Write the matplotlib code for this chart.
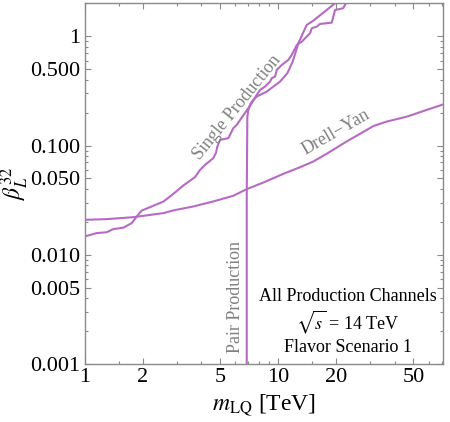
import numpy as np
import matplotlib
matplotlib.use('Agg')
import matplotlib.pyplot as plt
from matplotlib.ticker import FixedLocator, FixedFormatter, NullFormatter

plt.rcParams['font.family'] = ['Liberation Serif', 'DejaVu Serif']
plt.rcParams['mathtext.fontset'] = 'stix'

# curves (m_LQ in TeV, beta_L^32)
drell_yan_m = [1.0, 1.30, 1.79, 2.56, 2.88, 3.65, 4.63, 5.87, 6.89, 8.40, 10.65,
               13.0, 15.2, 17.8, 22.6, 26.5, 31.1, 36.5, 46.3, 58.6, 74.4]
drell_yan_b = [0.0209, 0.0212, 0.0221, 0.0241, 0.0255, 0.0277, 0.0308, 0.0347, 0.0399,
               0.0459, 0.0551, 0.0634, 0.0714, 0.0839, 0.109, 0.128, 0.151, 0.166,
               0.184, 0.212, 0.244]

single_m = [1.0, 1.156, 1.302, 1.409, 1.586, 1.754, 1.861, 1.975, 2.18, 2.555, 2.766,
            2.936, 3.24, 3.724, 3.954, 4.195, 4.63, 4.78, 4.857, 5.015, 5.535, 5.875,
            6.117, 7.31, 7.76, 8.07, 8.57, 9.09, 9.28, 9.65, 9.85, 10.45, 11.3, 11.77,
            12.5, 13.26, 14.07, 14.64, 14.94, 15.85, 16.49, 18.95, 19.7, 21.7, 22.65]
single_b = [0.0147, 0.0158, 0.0161, 0.0172, 0.0177, 0.0195, 0.0224, 0.0254, 0.0273,
            0.0307, 0.0342, 0.0372, 0.0431, 0.0514, 0.0599, 0.0666, 0.0767, 0.0858,
            0.098, 0.1128, 0.1169, 0.1443, 0.1547, 0.2443, 0.291, 0.323, 0.347, 0.385,
            0.414, 0.428, 0.493, 0.547, 0.608, 0.676, 0.834, 0.894, 0.994, 1.068, 1.186,
            1.227, 1.299, 1.335, 1.744, 1.807, 2.08]

pair_m = [6.89, 6.89, 6.92, 6.94, 7.02, 7.23, 7.45, 7.76, 8.74, 10.24, 11.17, 11.91,
          12.58, 12.73, 14.07, 15.22, 19.7, 20.9]
pair_b = [0.001, 0.0319, 0.0913, 0.183, 0.212, 0.244, 0.262, 0.281, 0.312, 0.385,
          0.460, 0.587, 0.805, 0.865, 1.272, 1.392, 2.01, 2.15]

x_ticks = [1, 2, 5, 10, 20, 50]
x_minor = [1.5, 3, 4, 6, 7, 8, 9, 15, 30, 40, 60, 70]
y_ticks = [0.001, 0.005, 0.010, 0.050, 0.100, 0.500, 1]
y_labels = ['0.001', '0.005', '0.010', '0.050', '0.100', '0.500', '1']

line_color = '#b76ac4'
frame_color = '#8a8a8a'

fig = plt.figure(figsize=(4.5, 4.22), dpi=100)
ax = fig.add_axes([0.1878, 0.1374, 0.7967, 0.8566])

ax.plot(drell_yan_m, drell_yan_b, color=line_color, lw=1.5)
ax.plot(single_m, single_b, color=line_color, lw=1.5)
ax.plot(pair_m, pair_b, color=line_color, lw=1.5)

ax.set_xscale('log')
ax.set_yscale('log')
ax.set_xlim(1, 71.2)
ax.set_ylim(0.001, 2.04)

ax.xaxis.set_major_locator(FixedLocator(x_ticks))
ax.xaxis.set_major_formatter(FixedFormatter([str(t) for t in x_ticks]))
ax.xaxis.set_minor_locator(FixedLocator(x_minor))
ax.xaxis.set_minor_formatter(NullFormatter())
ax.yaxis.set_major_locator(FixedLocator(y_ticks))
ax.yaxis.set_major_formatter(FixedFormatter(y_labels))
y_minor = [m * d for d in [0.001, 0.01, 0.1, 1] for m in range(2, 10)
           if m * d < 2.04 and m not in (5,)]
ax.yaxis.set_minor_locator(FixedLocator(y_minor))
ax.yaxis.set_minor_formatter(NullFormatter())

ax.tick_params(which='both', direction='in', top=True, right=True,
               color=frame_color, labelsize=16, pad=3)
ax.tick_params(which='major', length=4, width=0.8)
ax.tick_params(which='minor', length=2.5, width=0.8)
for s in ax.spines.values():
    s.set_color(frame_color)
    s.set_linewidth(1.0)

ax.set_xlabel(r'$m_{\rm LQ}$ [TeV]', fontsize=17, labelpad=4)
ax.set_ylabel(r'$\beta_L^{32}$', fontsize=17, va='center')
ax.yaxis.set_label_coords(-0.195, 0.5)

gray = '#808080'
ax.text(6.12, 0.2245, 'Single Production', color=gray, fontsize=13,
        rotation=51, ha='center', va='center', rotation_mode='anchor')
ax.text(19.9, 0.1334, 'Drell\u2212Yan', color=gray, fontsize=13,
        rotation=30, ha='center', va='center', rotation_mode='anchor')
ax.text(6.05, 0.00413, 'Pair Production', color=gray, fontsize=13,
        rotation=90, ha='center', va='center', rotation_mode='anchor')

ax.text(0.735, 0.188, 'All Production Channels', transform=ax.transAxes,
        fontsize=13, ha='center', va='center')
ax.text(0.735, 0.116, r'$\sqrt{s}$ = 14 TeV', transform=ax.transAxes,
        fontsize=13, ha='center', va='center')
ax.text(0.735, 0.047, 'Flavor Scenario 1', transform=ax.transAxes,
        fontsize=13, ha='center', va='center')

fig.savefig('out.png', dpi=100)
